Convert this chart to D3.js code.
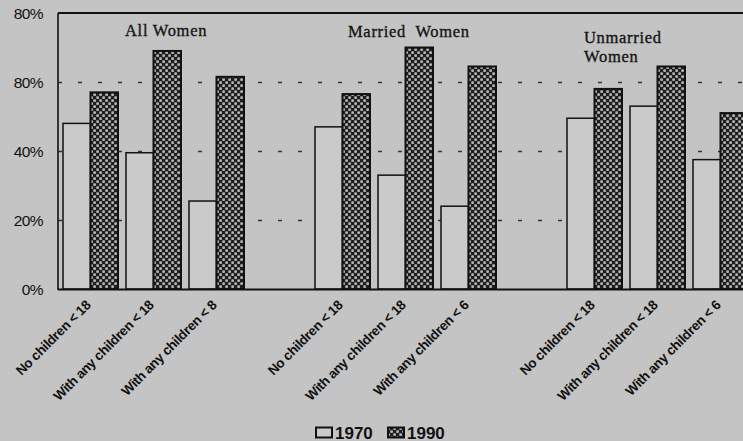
<!DOCTYPE html>
<html>
<head>
<meta charset="utf-8">
<script src="https://cdn.jsdelivr.net/npm/d3@7/dist/d3.min.js"></script>
<style>
  html, body { margin: 0; padding: 0; background: #c4c4c4; overflow: hidden; }
  svg { display: block; }
</style>
</head>
<body>
<svg id="chart" width="743" height="441"></svg>
<script>
// Women's labor force participation, 1970 vs 1990, by marital status and children
const groups = ["All Women", "Married  Women", "Unmarried Women"];
const groupTitleLines = [["All Women"], ["Married  Women"], ["Unmarried", "Women"]];
const categoryLabels = [
  ["No children < 18", "With any children < 18", "With any children < 8"],
  ["No children < 18", "With any children < 18", "With any children < 6"],
  ["No children < 18", "With any children < 18", "With any children < 6"]
];
const years = ["1970", "1990"];
const values1970 = [
  [48, 39.5, 25.5],
  [47, 33, 24],
  [49.5, 53, 37.5]
];
const values1990 = [
  [57, 69, 61.5],
  [56.5, 70, 64.5],
  [58, 64.5, 51]
];
const tickValues = [0, 20, 40, 60, 80];
const tickLabels = ["0%", "20%", "40%", "80%", "80%"];

const svg = d3.select("#chart");
const W = 743, H = 441;
const plot = { left: 58, top: 13, bottom: 289 };

// Slots: three categories per group plus one empty slot separating groups
const slots = [];
groups.forEach((g, gi) => {
  categoryLabels[gi].forEach((c, ci) => slots.push(`${gi}|${ci}`));
  slots.push(`${gi}|gap`);
});

const step = 63;
const x = d3.scaleBand()
  .domain(slots)
  .range([plot.left, plot.left + step * slots.length + 2])
  .paddingInner(8 / 63)
  .paddingOuter(5 / 63);
const xYear = d3.scaleBand().domain(years).range([0, x.bandwidth()]);
const y = d3.scaleLinear().domain([0, 80]).range([plot.bottom, plot.top]);

// Check pattern for 1990 bars
const defs = svg.append("defs");
const pat = defs.append("pattern")
  .attr("id", "checks").attr("patternUnits", "userSpaceOnUse")
  .attr("width", 6).attr("height", 6);
pat.append("rect").attr("width", 6).attr("height", 6).attr("fill", "#1e1e1e");
[[0, 0], [3, 3]].forEach(([px, py]) => {
  pat.append("rect").attr("x", px + 0.2).attr("y", py + 0.2)
    .attr("width", 2.8).attr("height", 2.8).attr("rx", 0.9)
    .attr("fill", "#b2b2b2");
});

// Dashed gridlines
svg.append("g")
  .selectAll("line")
  .data(tickValues.filter(v => v > 0 && v < 80))
  .join("line")
  .attr("x1", plot.left).attr("x2", W)
  .attr("y1", d => Math.round(y(d)) + 0.5).attr("y2", d => Math.round(y(d)) + 0.5)
  .attr("stroke", "#333").attr("stroke-width", 1.3)
  .attr("stroke-dasharray", "4,16");

// Y axis labels
const yAxis = d3.axisLeft(y)
  .tickValues(tickValues)
  .tickFormat((d, i) => tickLabels[i])
  .tickSize(0).tickPadding(0);
const yg = svg.append("g").attr("transform", "translate(43,0)").call(yAxis);
yg.select(".domain").remove();
yg.selectAll("text")
  .attr("font-family", "'Liberation Sans', Arial, sans-serif")
  .attr("font-size", 15.5).attr("fill", "#111")
  .attr("letter-spacing", -0.6)
  .attr("dy", "0.36em");

// Bars
const rows = [];
groups.forEach((g, gi) => {
  categoryLabels[gi].forEach((c, ci) => {
    rows.push({ key: `${gi}|${ci}`, year: "1970", value: values1970[gi][ci] });
    rows.push({ key: `${gi}|${ci}`, year: "1990", value: values1990[gi][ci] });
  });
});

svg.append("g")
  .selectAll("rect")
  .data(rows)
  .join("rect")
  .attr("x", d => x(d.key) + xYear(d.year))
  .attr("y", d => y(d.value))
  .attr("width", xYear.bandwidth())
  .attr("height", d => y(0) - y(d.value))
  .attr("fill", d => d.year === "1970" ? "#cacaca" : "url(#checks)")
  .attr("stroke", "#111")
  .attr("stroke-width", d => d.year === "1970" ? 1.5 : 2);

// Frame: left axis, top border, baseline
svg.append("line").attr("x1", plot.left).attr("x2", plot.left)
  .attr("y1", plot.top).attr("y2", plot.bottom + 1)
  .attr("stroke", "#111").attr("stroke-width", 1.6);
svg.append("line").attr("x1", plot.left).attr("x2", W)
  .attr("y1", plot.top).attr("y2", plot.top)
  .attr("stroke", "#111").attr("stroke-width", 2);
svg.append("line").attr("x1", plot.left).attr("x2", W)
  .attr("y1", plot.bottom + 0.5).attr("y2", plot.bottom + 0.5)
  .attr("stroke", "#111").attr("stroke-width", 2);

// Group titles
const titleX = [125, 348, 584];
const titleY = [36, 37, 43];
groups.forEach((g, gi) => {
  const t = svg.append("text")
    .attr("x", titleX[gi]).attr("y", titleY[gi])
    .attr("font-family", "'Liberation Serif', 'Times New Roman', serif")
    .attr("font-size", 16.5)
    .attr("letter-spacing", 0.7)
    .attr("fill", "#151515")
    .attr("stroke", "#151515").attr("stroke-width", 0.35)
    .attr("xml:space", "preserve")
    .style("white-space", "pre");
  groupTitleLines[gi].forEach((line, li) => {
    t.append("tspan").attr("x", titleX[gi]).attr("dy", li === 0 ? 0 : 19).text(line);
  });
});

// Category labels, rotated
const lab = svg.append("g");
groups.forEach((g, gi) => {
  categoryLabels[gi].forEach((c, ci) => {
    const cx = x(`${gi}|${ci}`) + x.bandwidth() / 2;
    lab.append("text")
      .attr("transform", `translate(${cx + 1},306) rotate(-45)`)
      .attr("text-anchor", "end")
      .attr("font-family", "'Liberation Sans', Arial, sans-serif")
      .attr("font-size", 13.5).attr("font-weight", "bold")
      .attr("letter-spacing", -0.35)
      .attr("fill", "#111")
      .text(c);
  });
});

// Legend
const legend = svg.append("g").attr("transform", "translate(315,427)");
const legendX = [0, 72];
years.forEach((yr, i) => {
  const lg = legend.append("g").attr("transform", `translate(${legendX[i]},0)`);
  lg.append("rect").attr("x", 1).attr("y", 0.5).attr("width", 16).attr("height", 10)
    .attr("fill", i === 0 ? "#cacaca" : "url(#checks)")
    .attr("stroke", "#111").attr("stroke-width", 2);
  lg.append("text").attr("x", 20).attr("y", 11.5)
    .attr("font-family", "'Liberation Sans', Arial, sans-serif")
    .attr("font-size", 17).attr("font-weight", "bold")
    .attr("fill", "#111")
    .text(yr);
});
</script>
</body>
</html>
